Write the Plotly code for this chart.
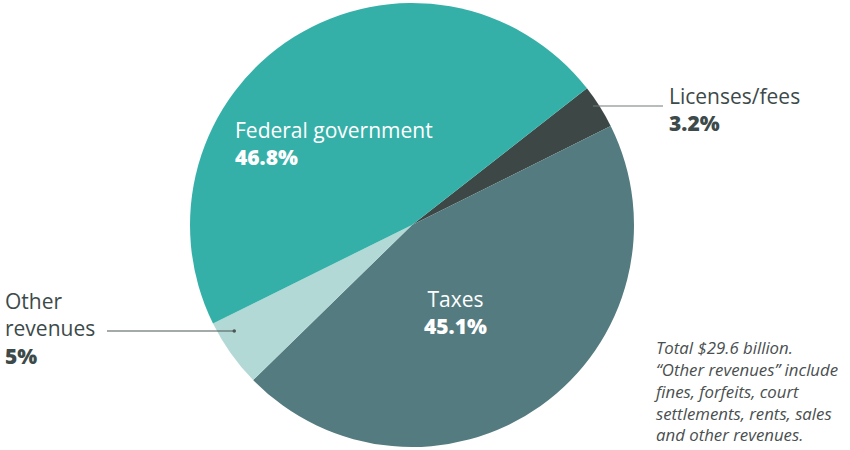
import plotly.graph_objects as go

# Revenue sources, share of total (%)
labels = ["Licenses/fees", "Taxes", "Other revenues", "Federal government"]
values = [3.2, 45.1, 5.0, 46.8]
colors = ["#3c4746", "#547b7f", "#b3d9d6", "#35b0a8"]

# Text shown for each slice
names = {"Licenses/fees": "Licenses/fees", "Taxes": "Taxes",
         "Other revenues": "Other<br>revenues",
         "Federal government": "Federal government"}
pct_text = {lab: f"{v:g}%" for lab, v in zip(labels, values)}

W, H = 850, 450
FONT = "Open Sans"
DARK = "#3d4a4a"

fig = go.Figure(go.Pie(
    labels=labels,
    values=values,
    sort=False,
    direction="clockwise",
    rotation=52,
    marker=dict(colors=colors, line=dict(width=0)),
    textinfo="none",
    hoverinfo="label+percent",
    showlegend=False,
    domain=dict(x=[190 / W, 634 / W], y=[3 / H, 447 / H]),
))


def label(key, x, y, color, anchor="left"):
    text = (f"{names[key]}<br>"
            f"<span style='font-weight:800'>{pct_text[key]}</span>")
    fig.add_annotation(
        x=x / W, y=1 - y / H, xref="paper", yref="paper",
        text=text, align=anchor,
        showarrow=False, xanchor=anchor, yanchor="middle",
        font=dict(family=FONT, size=21, color=color),
    )


# Slice labels
label("Federal government", 233, 143.5, "white")
label("Taxes", 455, 312.5, "white", anchor="center")
label("Licenses/fees", 667, 109, DARK)
label("Other revenues", 3, 328.5, DARK)

# Leader lines
fig.add_shape(type="line", xref="paper", yref="paper",
              x0=593 / W, x1=663 / W, y0=1 - 106 / H, y1=1 - 106 / H,
              line=dict(color="#707a7a", width=1.2))
fig.add_shape(type="line", xref="paper", yref="paper",
              x0=107 / W, x1=234 / W, y0=1 - 331 / H, y1=1 - 331 / H,
              line=dict(color="#4a5555", width=1.2))
fig.add_shape(type="circle", xref="paper", yref="paper",
              x0=232.5 / W, x1=236 / W, y0=1 - 332.7 / H, y1=1 - 329.3 / H,
              fillcolor="#4a5555", line=dict(width=0))

# Footnote
note = ("<i>Total $29.6 billion.<br>“Other revenues” include<br>"
        "fines, forfeits, court<br>settlements, rents, sales<br>"
        "and other revenues.</i>")
fig.add_annotation(
    x=652 / W, y=1 - 334 / H, xref="paper", yref="paper",
    text=note, showarrow=False, xanchor="left", yanchor="top", align="left",
    font=dict(family=FONT, size=16.8, color="#4a4f50"),
)

fig.update_layout(
    width=W, height=H,
    margin=dict(l=0, r=0, t=0, b=0),
    paper_bgcolor="white", plot_bgcolor="white",
)

fig.write_html("out.html")
